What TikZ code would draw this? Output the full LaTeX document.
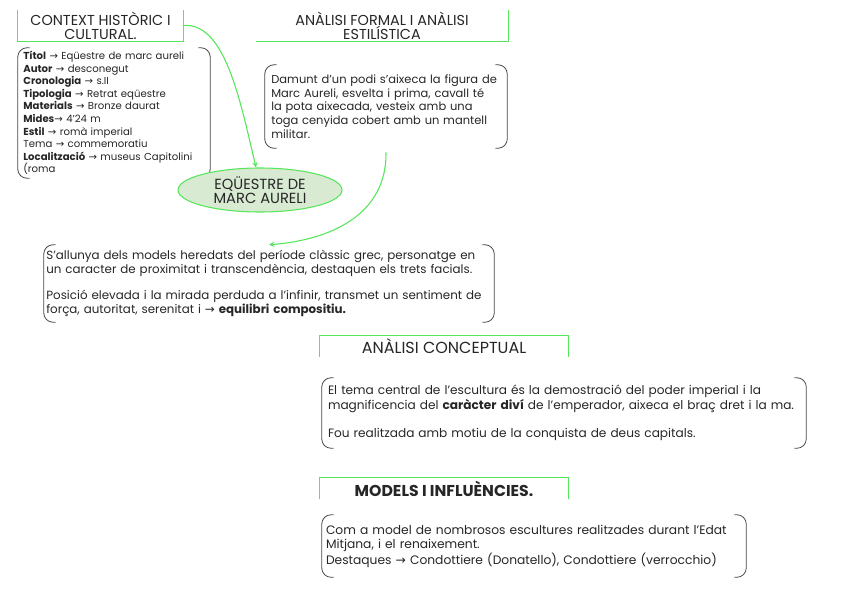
\documentclass[tikz,border=0pt]{standalone}
\usepackage{fontspec}
\setmainfont{Poppins}
\newfontfamily\arrowfont{DejaVu Sans}
\usetikzlibrary{positioning,shapes,arrows}

\definecolor{hdgreen}{HTML}{55E659}
\definecolor{eqfill}{HTML}{D9EAD3}
\definecolor{ink}{HTML}{262626}
\newcommand{\ra}{{\arrowfont →}}

\tikzset{
  head/.style={align=center, text=ink, font=\fontsize{10.8}{10.6}\selectfont, inner sep=0pt},
  txtbox/.style={align=left, text=ink, inner sep=0pt},
  brk/.style={draw=ink!85, line width=0.6pt, rounded corners=7pt},
  hdline/.style={draw=hdgreen, line width=0.9pt},
  link/.style={draw=hdgreen, line width=0.8pt, ->, >=stealth}
}

\begin{document}
\begin{tikzpicture}[x=0.75pt, y=-0.75pt]
    \useasboundingbox (0,0) rectangle (848,600);

    % Headers
    \node[head, minimum width=123.75pt, minimum height=23.25pt] (ctxhead) at (100.5,25.5) {CONTEXT HISTÒRIC I\\CULTURAL.};
    \node[head, minimum width=189pt, minimum height=23.25pt] (formhead) at (382,25.5) {ANÀLISI FORMAL I ANÀLISI\\ESTILÍSTICA};
    \node[head, minimum width=186pt, minimum height=15.75pt, font=\fontsize{12}{12}\selectfont] (conhead) at (444,346.5) {ANÀLISI CONCEPTUAL};
    \node[head, minimum width=186pt, minimum height=15.75pt, font=\fontsize{11.8}{12}\selectfont\bfseries] (modhead) at (444,488.5) {MODELS I INFLUÈNCIES.};

    % Header borders
    \draw[hdline] (ctxhead.north west) -- (ctxhead.south west) -- (ctxhead.south east) -- (ctxhead.north east);
    \draw[hdline] (formhead.south west) -- (formhead.south east) -- (formhead.north east);
    \draw[hdline] (conhead.south west) -- (conhead.north west) -- (conhead.north east) -- (conhead.south east);
    \draw[hdline] (modhead.south west) -- (modhead.north west) -- (modhead.north east) -- (modhead.south east);

    % Text boxes
    \node[txtbox, minimum width=144pt, minimum height=97.5pt, text width=136pt, font=\fontsize{7.6}{9.45}\selectfont] (ctxlist) at (114,113) {%
        \textbf{Títol} \ra{} Eqüestre de marc aureli\\
        \textbf{Autor} \ra{} desconegut\\
        \textbf{Cronologia} \ra{} s.II\\
        \textbf{Tipologia} \ra{} Retrat eqüestre\\
        \textbf{Materials} \ra{} Bronze daurat\\
        \textbf{Mides}\ra{} 4’24 m\\
        \textbf{Estil} \ra{} romà imperial\\
        Tema \ra{} commemoratiu\\
        \textbf{Localització} \ra{} museus Capitolini\\
        (roma};
    \node[txtbox, minimum width=181.5pt, minimum height=62.25pt, text width=172pt, font=\fontsize{8.6}{10.3}\selectfont] (formal) at (386,106.5) {%
        Damunt d’un podi s’aixeca la figura de\\
        Marc Aureli, esvelta i prima, cavall té\\
        la pota aixecada, vesteix amb una\\
        toga cenyida cobert amb un mantell\\
        militar.};
    \node[txtbox, minimum width=337.5pt, minimum height=57.75pt, text width=334pt, font=\fontsize{8.9}{10.5}\selectfont] (estil) at (269,283.5) {%
        S’allunya dels models heredats del període clàssic grec, personatge en\\
        un caracter de proximitat i transcendència, destaquen els trets facials.\\[8.5pt]
        Posició elevada i la mirada perduda a l’infinir, transmet un sentiment de\\
        força, autoritat, serenitat i \ra{} \textbf{equilibri compositiu.}};
    \node[txtbox, minimum width=363pt, minimum height=52.5pt, text width=354pt, font=\fontsize{9.1}{11.2}\selectfont] (concept) at (564,413) {%
        El tema central de l’escultura és la demostració del poder imperial i la\\
        magnificencia del \textbf{caràcter diví} de l’emperador, aixeca el braç dret i la ma.\\[9.5pt]
        Fou realitzada amb motiu de la conquista de deus capitals.};
    \node[txtbox, minimum width=318pt, minimum height=46.5pt, text width=312pt, font=\fontsize{9.2}{10.5}\selectfont] (models) at (534,546) {%
        Com a model de nombrosos escultures realitzades durant l’Edat\\
        Mitjana, i el renaixement.\\
        Destaques \ra{} Condottiere (Donatello), Condottiere (verrocchio)};

    % Brackets
    \foreach \b in {ctxlist,formal,estil,concept,models} {
        \draw[brk] ([xshift=9pt]\b.north west) -- (\b.north west) -- (\b.south west) -- ([xshift=9pt]\b.south west);
        \draw[brk] ([xshift=-9pt]\b.north east) -- (\b.north east) -- (\b.south east) -- ([xshift=-9pt]\b.south east);
    }

    % Central topic
    \node[ellipse, draw=hdgreen, fill=eqfill, line width=0.8pt, minimum width=123pt, minimum height=33pt, inner sep=0pt, align=center, text=ink, font=\fontsize{11}{11}\selectfont] (eq) at (260,190) {EQÜESTRE DE\\MARC AURELI};

    % Links
    \draw[link] (ctxhead.east) .. controls (225,22) and (240,100) .. (eq.100);
    \draw[link] ([yshift=-3pt]formal.south) .. controls (387,215) and (330,240) .. (estil.north);
\end{tikzpicture}
\end{document}
